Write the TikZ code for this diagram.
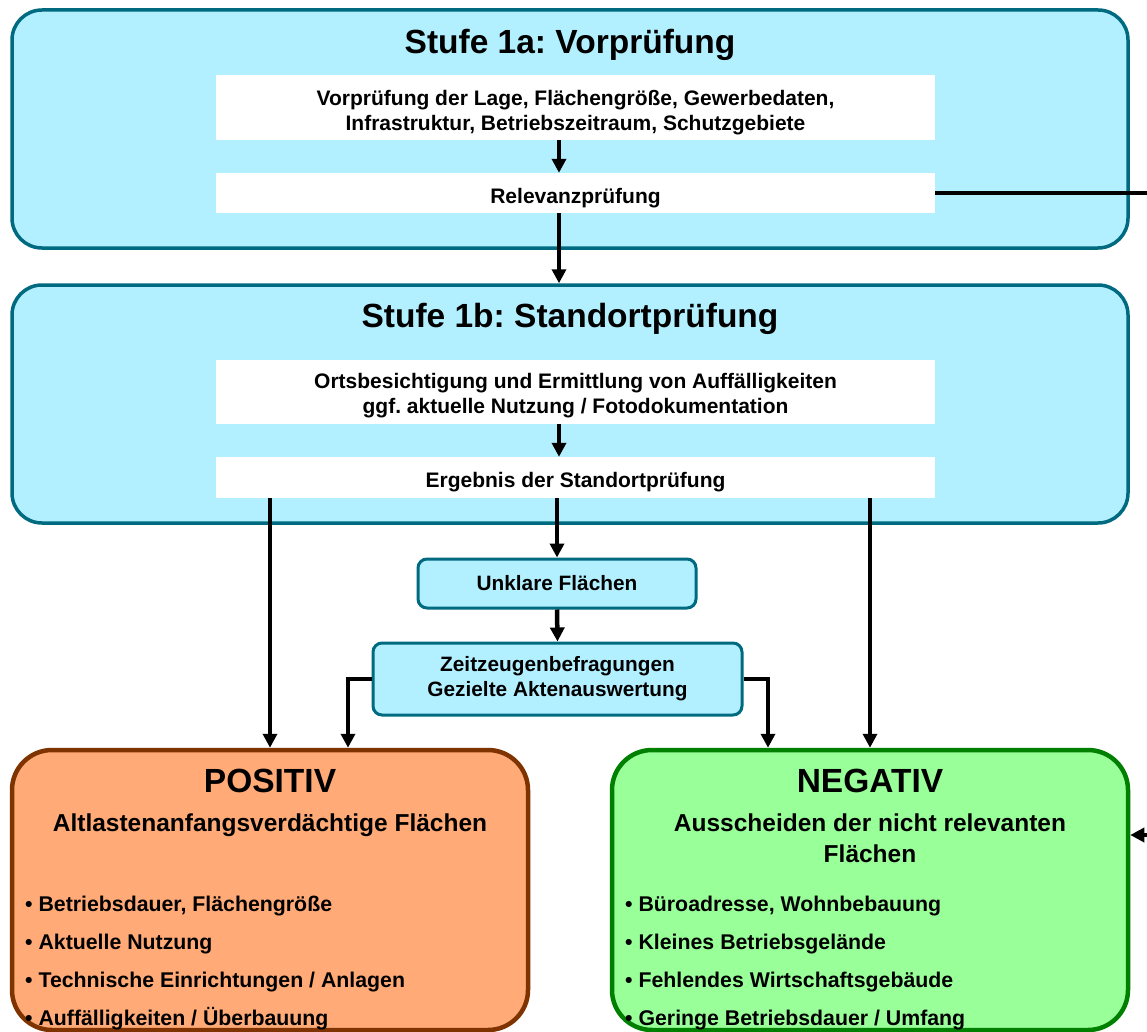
\documentclass[tikz,border=0pt]{standalone}
\usepackage{fontspec}
\setmainfont{Liberation Sans}
\frenchspacing
\usetikzlibrary{arrows.meta,calc,positioning}
\definecolor{stagefill}{HTML}{B3F0FF}
\definecolor{stageline}{HTML}{006A80}
\definecolor{posfill}{HTML}{FFAA77}
\definecolor{posline}{HTML}{7F3300}
\definecolor{negfill}{HTML}{99FF99}
\definecolor{negline}{HTML}{008000}
\tikzset{
  stage/.style={draw=stageline,fill=stagefill,line width=3.5pt,rounded corners=30pt,inner sep=0pt,minimum width=1116pt},
  whitebox/.style={fill=white,inner sep=0pt,minimum width=719pt},
  boxtext/.style={align=center,inner sep=0pt,font=\bfseries\fontsize{21}{25}\selectfont},
  smallbox/.style={draw=stageline,fill=stagefill,line width=3pt,rounded corners=9pt,inner sep=0pt,align=center,font=\bfseries\fontsize{20.8}{25}\selectfont},
  result/.style={line width=4.5pt,rounded corners=40pt,inner sep=0pt,minimum width=516pt,minimum height=280pt},
  title/.style={anchor=base,font=\bfseries\fontsize{33.5}{40}\selectfont},
  subtitle/.style={anchor=base,font=\bfseries\fontsize{24.5}{31}\selectfont,align=center},
  bullet/.style={anchor=base west,inner sep=0pt,font=\bfseries\fontsize{21.3}{25}\selectfont},
  conn/.style={line width=4.5pt},
  arr/.style={conn,-{Triangle[length=14pt,width=14pt]}}
}
\begin{document}
\begin{tikzpicture}[x=1pt,y=-1pt]
\useasboundingbox (0,0) rectangle (1147,1032);
\node[stage,minimum height=238pt] (stufeA) at (570,129) {};
\node[title] (titleA) at (570,54) {Stufe 1a: Vorprüfung};
\node[whitebox,minimum height=65pt] (lage) at (575.5,107.5) {};
\node[boxtext] (lageText) at ($(lage.center)+(0,5)$) {Vorprüfung der Lage, Flächengröße, Gewerbedaten,\\Infrastruktur, Betriebszeitraum, Schutzgebiete};
\node[whitebox,minimum height=40pt] (relevanz) at (575.5,193) {};
\node[boxtext] (relevanzText) at ($(relevanz.center)+(0,5)$) {Relevanzprüfung};
\node[stage,minimum height=238pt] (stufeB) at (570,404) {};
\node[title] (titleB) at (570,327) {Stufe 1b: Standortprüfung};
\node[whitebox,minimum height=64pt] (orts) at (575.5,392) {};
\node[boxtext] (ortsText) at ($(orts.center)+(0,4)$) {Ortsbesichtigung und Ermittlung von Auffälligkeiten\\ggf. aktuelle Nutzung / Fotodokumentation};
\node[whitebox,minimum height=41pt] (ergebnis) at (575.5,477.5) {};
\node[boxtext] (ergebnisText) at ($(ergebnis.center)+(0,5)$) {Ergebnis der Standortprüfung};
\node[smallbox,minimum width=278pt,minimum height=49pt] (unklar) at (557,583.5) {\raisebox{-2pt}{Unklare Flächen}};
\node[smallbox,minimum width=369pt,minimum height=72pt] (zeit) at (557.5,679) {Zeitzeugenbefragungen\\Gezielte Aktenauswertung};
\node[result,draw=posline,fill=posfill] (positiv) at (270,890) {};
\node[result,draw=negline,fill=negfill] (negativ) at (870,890) {};
\node[title] (posTitle) at (270,792) {POSITIV};
\node[subtitle] (posSub) at (270,831) {Altlastenanfangsverdächtige Flächen};
\node[title] (negTitle) at (870,792) {NEGATIV};
\node[subtitle] (negSub) at (870,862) {Ausscheiden der nicht relevanten\\Flächen};
\foreach \txt [count=\i] in {{Betriebsdauer, Flächengröße},Aktuelle Nutzung,Technische Einrichtungen / Anlagen,Auffälligkeiten / Überbauung}
  \node[bullet] (posItem\i) at (25,{873+38*\i}) {• \txt};
\foreach \txt [count=\i] in {{Büroadresse, Wohnbebauung},Kleines Betriebsgelände,Fehlendes Wirtschaftsgebäude,Geringe Betriebsdauer / Umfang}
  \node[bullet] (negItem\i) at (625,{873+38*\i}) {• \txt};
\coordinate (mid) at (559,0);
\coordinate (posA) at (270,0);\coordinate (posB) at (348,0);
\coordinate (negA) at (768,0);\coordinate (negB) at (870,0);
\coordinate (loop) at (1170,835);
\draw[arr] (lage.south -| mid) -- (relevanz.north -| mid);
\draw[arr] (relevanz.south -| mid) -- (stufeB.north -| mid);
\draw[arr] (orts.south -| mid) -- (ergebnis.north -| mid);
\draw[arr] (ergebnis.south -| unklar.north) -- (unklar.north);
\draw[arr] (unklar.south) -- (zeit.north);
\draw[arr] (ergebnis.south -| posA) -- (positiv.north -| posA);
\draw[arr] (ergebnis.south -| negB) -- (negativ.north -| negB);
\draw[arr] (zeit.west) -| (positiv.north -| posB);
\draw[arr] (zeit.east) -| (negativ.north -| negA);
\draw[arr] (relevanz.east) -| (loop) -- (loop -| negativ.east);
\end{tikzpicture}
\end{document}
